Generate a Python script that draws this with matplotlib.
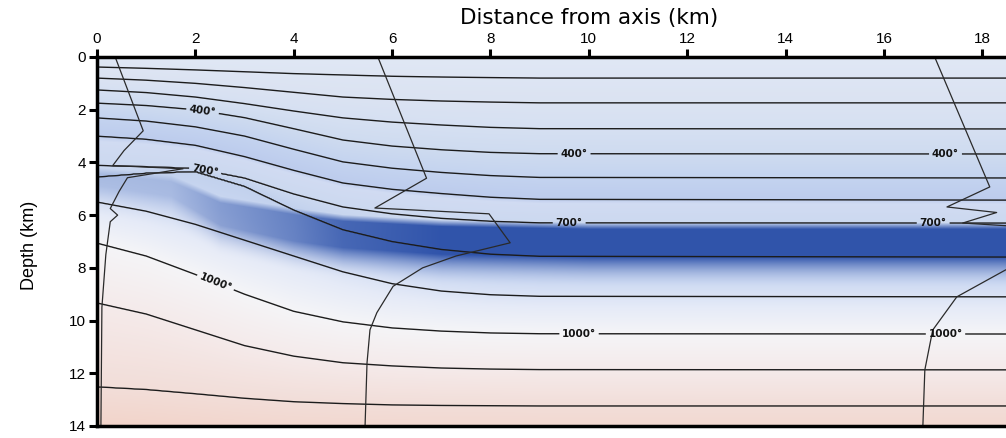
import numpy as np
import matplotlib.pyplot as plt

# distance from axis (km) where the isotherm depths were read
dist = [0, 1, 2, 3, 4, 5, 6, 7, 8, 9, 18.5]
temps = [100, 200, 300, 400, 500, 600, 700, 800, 900, 1000, 1100, 1200]
labelled = [400, 700, 1000]

# isotherm depths (km)
iso_100 = [0.38, 0.43, 0.49, 0.56, 0.63, 0.68, 0.73, 0.76, 0.78, 0.80, 0.80]
iso_200 = [0.80, 0.88, 1.00, 1.16, 1.34, 1.52, 1.61, 1.67, 1.71, 1.74, 1.74]
iso_300 = [1.25, 1.35, 1.52, 1.77, 2.05, 2.31, 2.47, 2.58, 2.67, 2.72, 2.73]
iso_400 = [1.75, 1.84, 2.00, 2.30, 2.72, 3.15, 3.38, 3.52, 3.62, 3.67, 3.68]
iso_500 = [2.31, 2.43, 2.65, 3.00, 3.50, 3.98, 4.22, 4.38, 4.50, 4.57, 4.59]
iso_600 = [3.00, 3.12, 3.35, 3.78, 4.30, 4.78, 5.02, 5.18, 5.32, 5.40, 5.43]
iso_700 = [4.12, 4.17, 4.24, 4.60, 5.20, 5.69, 5.95, 6.12, 6.23, 6.29, 6.30]
iso_800 = [4.55, 4.40, 4.34, 4.90, 5.80, 6.55, 7.00, 7.30, 7.48, 7.56, 7.59]
iso_900 = [5.50, 5.85, 6.35, 6.95, 7.55, 8.15, 8.60, 8.88, 9.02, 9.08, 9.10]
iso_1000 = [7.06, 7.55, 8.25, 9.00, 9.65, 10.05, 10.28, 10.40, 10.47, 10.50, 10.51]
iso_1100 = [9.33, 9.75, 10.35, 10.95, 11.35, 11.60, 11.72, 11.80, 11.84, 11.86, 11.87]
iso_1200 = [12.52, 12.62, 12.78, 12.95, 13.08, 13.15, 13.20, 13.22, 13.23, 13.24, 13.24]

# profile curves
prof1_x = [0.37, 0.94, 0.55, 0.32, 1.75, 0.62, 0.45, 0.27, 0.42, 0.27, 0.18, 0.10, 0.08]
prof1_z = [0.0, 2.8, 3.55, 4.12, 4.24, 4.58, 5.1, 5.75, 6.0, 6.25, 7.5, 9.5, 14.0]
prof2_x = [5.71, 6.70, 5.65, 7.97, 8.40, 7.30, 6.62, 6.02, 5.69, 5.55, 5.49, 5.45]
prof2_z = [0.0, 4.6, 5.73, 5.95, 7.05, 7.55, 8.0, 8.7, 9.7, 10.35, 11.6, 14.0]
prof3_x = [17.03, 18.15, 17.28, 18.29, 17.60, 18.9, 18.9, 18.47, 17.48, 16.99, 16.83, 16.79]
prof3_z = [0.0, 4.93, 5.69, 5.90, 6.30, 6.45, 7.8, 8.08, 9.10, 10.36, 11.87, 14.0]

# dark blue band (km)
band_dist = [0, 1.5, 2.5, 4, 5, 7, 10, 18.5]
band_top = [4.2, 4.5, 5.3, 5.75, 6.0, 6.2, 6.3, 6.3]
band_bot = [4.9, 5.3, 6.4, 7.0, 7.25, 7.5, 7.6, 7.6]
band_strength = [0.18, 0.22, 0.45, 0.65, 0.85, 1.0, 1.0, 1.0]

label_pos = [(2.15, 2.0), (9.7, 3.68), (17.25, 3.68),
             (2.2, 4.3), (9.6, 6.3), (17.0, 6.3),
             (2.4, 8.6), (9.8, 10.5), (17.25, 10.5)]

iso = [iso_100, iso_200, iso_300, iso_400, iso_500, iso_600,
       iso_700, iso_800, iso_900, iso_1000, iso_1100, iso_1200]

xmax = 18.48
xg = np.linspace(0, xmax, 925)
zg = np.linspace(0, 14, 370)
dgrid = np.array([np.interp(xg, dist, d) for d in iso])
lev = [0] + temps + [1300]
T = np.empty((len(zg), len(xg)))
for j in range(len(xg)):
    dcol = np.concatenate([[0], dgrid[:, j], [dgrid[-1, j] + 1.5]])
    T[:, j] = np.interp(zg, dcol, lev)

# background colours by temperature
stop_T = [0, 200, 300, 400, 500, 600, 620, 700, 800, 860, 930, 1000, 1100, 1200, 1300]
stop_rgb = np.array([
    [0.88, 0.91, 0.96], [0.86, 0.89, 0.95], [0.84, 0.88, 0.95],
    [0.81, 0.86, 0.94], [0.77, 0.83, 0.94], [0.74, 0.80, 0.93],
    [0.82, 0.86, 0.95], [0.80, 0.85, 0.94], [0.76, 0.82, 0.93],
    [0.80, 0.85, 0.95], [0.90, 0.92, 0.97], [0.96, 0.96, 0.97],
    [0.96, 0.92, 0.92], [0.95, 0.87, 0.85], [0.95, 0.83, 0.79]])
rgb = np.stack([np.interp(T, stop_T, stop_rgb[:, k]) for k in range(3)], axis=-1)

Z = zg[:, None]
top = np.interp(xg, band_dist, band_top)[None, :]
bot = np.interp(xg, band_dist, band_bot)[None, :]
stren = np.interp(xg, band_dist, band_strength)[None, :]
w_top = np.clip((Z - top) / 0.25, 0, 1)
w_bot = np.clip(1 - (Z - bot) / 1.2, 0, 1) ** 2
a = stren * np.minimum(w_top, w_bot)
dark = np.array([0.19, 0.33, 0.67])
rgb = rgb * (1 - a[..., None]) + dark * a[..., None]

fig = plt.figure(figsize=(10.06, 4.38), dpi=100)
ax = fig.add_axes([0.0964, 0.0274, 0.9036, 0.8425])
ax.imshow(rgb, extent=[0, xmax, 14, 0], aspect='auto', interpolation='bilinear')

plain = [t for t in temps if t not in labelled]
ax.contour(xg, zg, T, levels=plain, colors='#1c1c1c', linewidths=1.0)
CS = ax.contour(xg, zg, T, levels=labelled, colors='#1c1c1c', linewidths=1.0)
texts = ax.clabel(CS, manual=label_pos, inline=True, inline_spacing=4,
                  fmt=lambda v: f'{v:.0f}\u00b0', fontsize=7.5)
for t in texts:
    t.set_fontweight('bold')
    t.set_color('#111111')

for px, pz in [(prof1_x, prof1_z), (prof2_x, prof2_z), (prof3_x, prof3_z)]:
    ax.plot(px, pz, color='#2a2a2a', lw=0.9)

ax.set_xlim(0, xmax)
ax.set_ylim(14, 0)
ax.xaxis.tick_top()
ax.set_xticks(range(0, 19, 2))
ax.set_yticks(range(0, 15, 2))
ax.tick_params(direction='out', length=6, width=2.2, labelsize=11, pad=2)
for lab in ax.get_xticklabels() + ax.get_yticklabels():
    lab.set_family('Liberation Sans')
for s in ['top', 'left', 'bottom']:
    ax.spines[s].set_linewidth(2.5)
ax.spines['right'].set_visible(False)

fig.text(0.586, 0.959, 'Distance from axis (km)', ha='center', va='center', fontsize=15.5)
fig.text(0.029, 0.44, 'Depth (km)', ha='center', va='center', rotation=90,
         fontsize=13, family='Liberation Sans')

fig.savefig('out.png', dpi=100)
